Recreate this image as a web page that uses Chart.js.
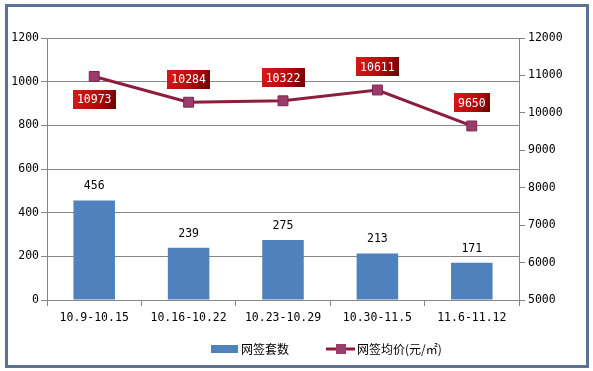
<!DOCTYPE html>
<html>
<head>
<meta charset="utf-8">
<script src="https://cdn.jsdelivr.net/npm/chart.js@4"></script>
<style>
html, body { margin: 0; padding: 0; background: #fff; }
</style>
</head>
<body>
<canvas id="chart" width="593" height="371"></canvas>
<script>
// 数据
const weeks = ['10.9-10.15', '10.16-10.22', '10.23-10.29', '10.30-11.5', '11.6-11.12'];
const signedUnits = [456, 239, 275, 213, 171];       // 网签套数
const avgPrice = [10973, 10284, 10322, 10611, 9650]; // 网签均价(元/㎡)
const unitTicks = [0, 200, 400, 600, 800, 1000, 1200];
const priceTicks = [5000, 6000, 7000, 8000, 9000, 10000, 11000, 12000];

const seriesNames = ['网签套数', '网签均价(元/㎡)'];
const priceLabelBelow = [true, false, false, false, false]; // 标签放在点的下方还是上方

const monoFont = "11.5px 'DejaVu Sans Mono', monospace";
const gridGray = '#878787';
const barBlue = '#4f81bd';
const lineRed = '#8c1d3d';
const markerColor = '#9b3c6b';

// 外框 + 白底
const framePlugin = {
  id: 'frame',
  beforeDraw(chart) {
    const ctx = chart.ctx;
    ctx.save();
    ctx.fillStyle = '#fff';
    ctx.fillRect(0, 0, chart.width, chart.height);
    ctx.strokeStyle = '#5b7292';
    ctx.lineWidth = 3;
    ctx.strokeRect(6.5, 5.5, 581, 361);
    ctx.restore();
  }
};

// 数值标签
const valueLabels = {
  id: 'valueLabels',
  afterDatasetsDraw(chart) {
    const ctx = chart.ctx;
    ctx.save();
    ctx.font = monoFont;
    ctx.textAlign = 'center';
    ctx.textBaseline = 'middle';

    chart.getDatasetMeta(0).data.forEach((bar, i) => {
      ctx.fillStyle = '#000';
      ctx.fillText(String(signedUnits[i]), bar.x, bar.y - 14);
    });

    chart.getDatasetMeta(1).data.forEach((pt, i) => {
      const txt = String(avgPrice[i]);
      const w = ctx.measureText(txt).width + 8;
      const h = 19;
      const cx = pt.x;
      const cy = pt.y + (priceLabelBelow[i] ? 23 : -23);
      const g = ctx.createLinearGradient(cx - w / 2, cy - h / 2, cx + w / 2, cy + h / 2);
      g.addColorStop(0, '#d81a1a');
      g.addColorStop(0.55, '#b80c0c');
      g.addColorStop(1, '#650202');
      ctx.fillStyle = g;
      ctx.fillRect(Math.round(cx - w / 2), Math.round(cy - h / 2), Math.round(w), h);
      ctx.fillStyle = '#fff';
      ctx.fillText(txt, cx, cy + 1);
    });
    ctx.restore();
  }
};

// 图例
const bottomLegend = {
  id: 'bottomLegend',
  afterDraw(chart) {
    const ctx = chart.ctx;
    const y = 349;
    ctx.save();
    ctx.fillStyle = barBlue;
    ctx.fillRect(211, y - 4, 27, 8);

    ctx.strokeStyle = lineRed;
    ctx.lineWidth = 3;
    ctx.beginPath();
    ctx.moveTo(326, y);
    ctx.lineTo(355, y);
    ctx.stroke();
    ctx.fillStyle = markerColor;
    ctx.fillRect(336, y - 5, 10, 10);

    ctx.fillStyle = '#000';
    ctx.font = "12px 'Noto Sans CJK SC'";
    ctx.textBaseline = 'middle';
    ctx.textAlign = 'left';
    ctx.fillText(seriesNames[0], 241, y);
    ctx.fillText(seriesNames[1], 357, y);
    ctx.restore();
  }
};

Chart.defaults.font.family = "'DejaVu Sans Mono', monospace";
Chart.defaults.font.size = 11.5;
Chart.defaults.color = '#000';

const plainNumber = v => String(v);

const ctx = document.getElementById('chart').getContext('2d');
new Chart(ctx, {
  type: 'bar',
  data: {
    labels: weeks,
    datasets: [
      {
        label: seriesNames[0],
        data: signedUnits,
        backgroundColor: barBlue,
        yAxisID: 'y',
        barPercentage: 0.44,
        categoryPercentage: 1,
        order: 1
      },
      {
        type: 'line',
        label: seriesNames[1],
        data: avgPrice,
        yAxisID: 'y1',
        borderColor: lineRed,
        borderWidth: 3,
        tension: 0,
        pointStyle: 'rect',
        pointRadius: 7,
        pointBackgroundColor: markerColor,
        pointBorderColor: '#7c2450',
        pointBorderWidth: 1,
        order: 0
      }
    ]
  },
  options: {
    responsive: false,
    animation: false,
    devicePixelRatio: 1,
    layout: { padding: { top: 38, left: 0, right: 0, bottom: 41 } },
    plugins: {
      legend: { display: false },
      tooltip: { enabled: false }
    },
    scales: {
      x: {
        grid: { offset: true, drawOnChartArea: false, tickLength: 6, color: gridGray },
        border: { color: gridGray },
        ticks: { padding: 5, maxRotation: 0, autoSkip: false },
        afterFit: s => { s.height = 30; }
      },
      y: {
        position: 'left',
        min: unitTicks[0],
        max: unitTicks[unitTicks.length - 1],
        ticks: { stepSize: unitTicks[1] - unitTicks[0], padding: 2, callback: plainNumber },
        grid: { color: gridGray, tickLength: 6 },
        border: { color: gridGray },
        afterFit: s => { s.width = 47; }
      },
      y1: {
        position: 'right',
        min: priceTicks[0],
        max: priceTicks[priceTicks.length - 1],
        ticks: { stepSize: priceTicks[1] - priceTicks[0], padding: 3, callback: plainNumber },
        grid: { drawOnChartArea: false, color: gridGray, tickLength: 6 },
        border: { color: gridGray },
        afterFit: s => { s.width = 74; }
      }
    }
  },
  plugins: [framePlugin, valueLabels, bottomLegend]
});
</script>
</body>
</html>
